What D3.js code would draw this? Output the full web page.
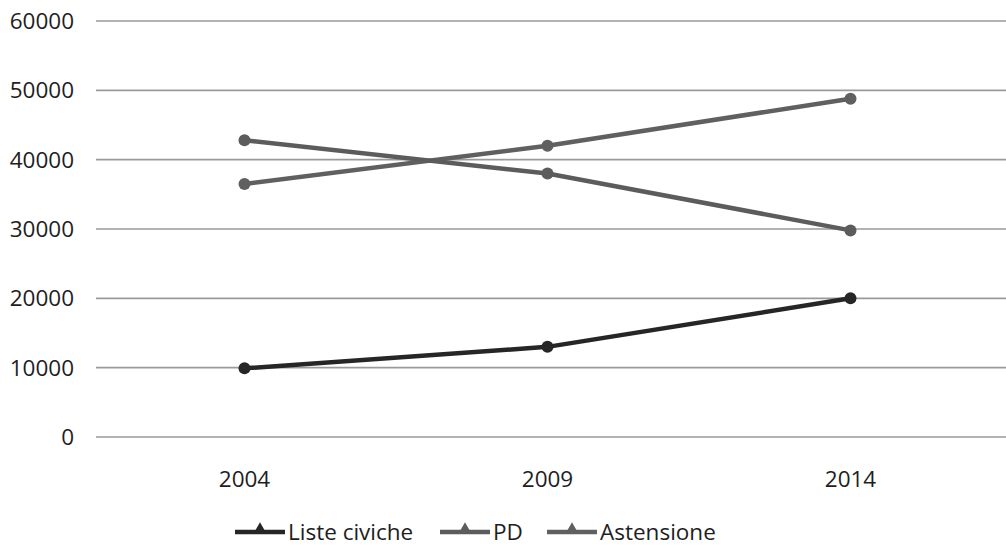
<!DOCTYPE html>
<html>
<head>
<meta charset="utf-8">
<script src="https://cdn.jsdelivr.net/npm/d3@7"></script>
<style>
  body { margin: 0; background: #fff; }
  svg { display: block; }
</style>
</head>
<body>
<div id="chart"></div>
<script>
const years = ["2004", "2009", "2014"];
const listeCiviche = [9900, 13000, 20000];
const pd = [42800, 38000, 29800];
const astensione = [36500, 42000, 48800];
const yTicks = [0, 10000, 20000, 30000, 40000, 50000, 60000];

const width = 1006, height = 546;

const series = [
    { name: "Liste civiche", values: listeCiviche, color: "#262626" },
    { name: "PD", values: pd, color: "#5c5c5c" },
    { name: "Astensione", values: astensione, color: "#606060" }
];

const svg = d3.select("#chart").append("svg")
    .attr("width", width)
    .attr("height", height)
    .style("font-family", "'Open Sans', sans-serif");

const x = d3.scaleBand().domain(years).range([93, 1002]);
const y = d3.scaleLinear().domain([0, 60000]).range([437, 21]);

// gridlines
svg.append("g")
    .selectAll("line")
    .data(yTicks)
    .join("line")
    .attr("x1", 96)
    .attr("x2", width)
    .attr("y1", d => y(d))
    .attr("y2", d => y(d))
    .attr("stroke", "#9a9a9a")
    .attr("stroke-width", 1.6);

// y labels
svg.append("g")
    .selectAll("text")
    .data(yTicks)
    .join("text")
    .attr("x", 74)
    .attr("y", d => y(d))
    .attr("dy", "0.36em")
    .attr("text-anchor", "end")
    .attr("font-size", 22.5)
    .attr("fill", "#1e1e1e")
    .text(d => d);

// x labels
svg.append("g")
    .selectAll("text")
    .data(years)
    .join("text")
    .attr("x", d => x(d) + x.bandwidth() / 2)
    .attr("y", 487)
    .attr("text-anchor", "middle")
    .attr("font-size", 22.5)
    .attr("fill", "#1e1e1e")
    .text(d => d);

const line = d3.line()
    .x((d, i) => x(years[i]) + x.bandwidth() / 2)
    .y(d => y(d));

const lines = svg.append("g");
series.slice().reverse().forEach(s => {
    lines.append("path")
        .attr("d", line(s.values))
        .attr("fill", "none")
        .attr("stroke", s.color)
        .attr("stroke-width", 4.5);
    lines.append("g")
        .selectAll("circle")
        .data(s.values)
        .join("circle")
        .attr("cx", (d, i) => x(years[i]) + x.bandwidth() / 2)
        .attr("cy", d => y(d))
        .attr("r", 6)
        .attr("fill", s.color);
});

// legend
const legendX = [235, 440, 547];
const legend = svg.append("g")
    .selectAll("g")
    .data(series)
    .join("g")
    .attr("transform", (d, i) => `translate(${legendX[i]},532)`);

legend.append("line")
    .attr("x1", 0).attr("x2", 50)
    .attr("stroke", d => d.color)
    .attr("stroke-width", 4.5);
legend.append("path")
    .attr("d", d3.symbol(d3.symbolTriangle, 60))
    .attr("transform", "translate(25,-3)")
    .attr("fill", d => d.color);
legend.append("text")
    .attr("x", 53)
    .attr("dy", "0.36em")
    .attr("font-size", 22.5)
    .attr("fill", "#1e1e1e")
    .text(d => d.name);
</script>
</body>
</html>
